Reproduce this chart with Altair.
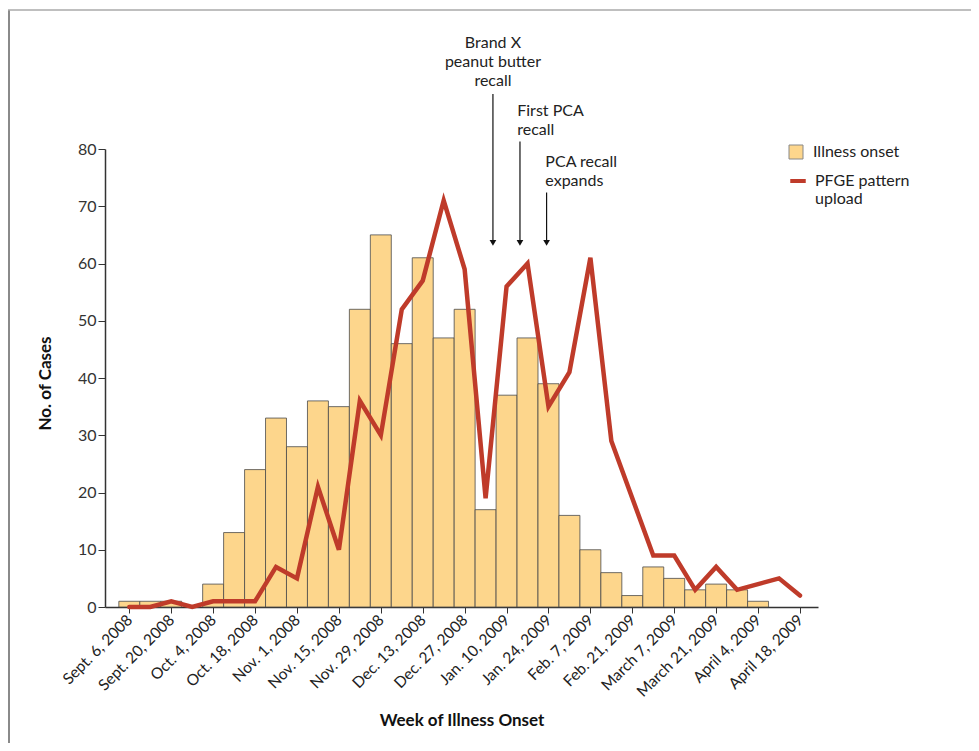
import json
import altair as alt
import pandas as pd

# ---- data ----
week_index = list(range(33))  # Sept 6, 2008 ... April 18, 2009 (weekly)
illness_onset = [1, 1, 1, 0, 4, 13, 24, 33, 28, 36, 35, 52, 65, 46, 61, 47, 52,
                 17, 37, 47, 39, 16, 10, 6, 2, 7, 5, 3, 4, 3, 1, 0, 0]
pfge_upload = [0, 0, 1, 0, 1, 1, 1, 7, 5, 21, 10, 36, 30, 52, 57, 71, 59,
               19, 56, 60, 35, 41, 61, 29, 19, 9, 9, 3, 7, 3, 4, 5, 2]
tick_labels = ["Sept. 6, 2008", "Sept. 20, 2008", "Oct. 4, 2008", "Oct. 18, 2008",
               "Nov. 1, 2008", "Nov. 15, 2008", "Nov. 29, 2008", "Dec. 13, 2008",
               "Dec. 27, 2008", "Jan. 10, 2009", "Jan. 24, 2009", "Feb. 7, 2009",
               "Feb. 21, 2009", "March 7, 2009", "March 21, 2009", "April 4, 2009",
               "April 18, 2009"]
tick_values = list(range(0, 33, 2))

# annotations (x in week units, y in case units)
arrow_x = [17.35, 18.64, 19.91]
arrow_top = [89.6, 81.3, 72.4]
arrow_tip = [63.6, 63.6, 63.6]
ann_center_text = ["Brand X", "peanut butter", "recall"]
ann_center_y = [98.6, 95.2, 91.9]
ann_left_text = ["First PCA", "recall", "PCA recall", "expands"]
ann_left_x = [18.51, 18.51, 19.85, 19.85]
ann_left_y = [86.7, 83.4, 77.8, 74.4]

FONT = "Lato"
BAR_FILL = "#FDD68C"
LINE_RED = "#BF3B2A"
TXT = "#222"

bars_df = pd.DataFrame({"week": week_index, "cases": illness_onset,
                        "series": "Illness onset"})
bars_df = bars_df[bars_df["cases"] > 0]
line_df = pd.DataFrame({"week": week_index, "cases": pfge_upload,
                        "series2": "PFGE pattern upload"})

xscale = alt.Scale(domain=[-1.16, 32.86], nice=False, zero=False, padding=0)
yscale = alt.Scale(domain=[0, 80], nice=False, padding=0)

label_expr = json.dumps(tick_labels) + "[round(datum.value/2)]"

x_axis = alt.Axis(values=tick_values, labelExpr=label_expr, labelAngle=-45,
                  labelAlign="right", labelBaseline="middle", labelFont=FONT,
                  labelFontSize=15.5, labelColor=TXT, labelPadding=4,
                  tickSize=6, tickColor="#333", domainColor="#333", domainWidth=1.5,
                  grid=False, title="Week of Illness Onset", titleFont=FONT,
                  titleFontSize=17, titleFontWeight="bold", titleColor="#111",
                  titleX=356.5, titleY=113, titleAnchor="middle",
                  titleBaseline="middle", labelOverlap=False)
y_axis = alt.Axis(values=list(range(0, 81, 10)), labelFont=FONT, labelFontSize=16,
                  labelColor="#333", labelPadding=2, tickSize=7, tickColor="#333",
                  domainColor="#333", domainWidth=1.5, grid=False,
                  title="No. of Cases", titleFont=FONT, titleFontSize=17,
                  titleFontWeight="bold", titleColor="#111", titleAngle=-90,
                  titleX=-60, titleY=234, titleAlign="center",
                  titleBaseline="middle")

bars = alt.Chart(bars_df).transform_calculate(
    x0="datum.week - 0.5", x1="datum.week + 0.5"
).mark_bar(stroke="#4a4a4a", strokeWidth=0.8, orient="vertical").encode(
    x=alt.X("x0:Q", scale=xscale, axis=x_axis),
    x2="x1:Q",
    y=alt.Y("cases:Q", scale=yscale, axis=y_axis),
    y2=alt.datum(0),
    fill=alt.Fill("series:N", scale=alt.Scale(domain=["Illness onset"], range=[BAR_FILL]),
                  legend=alt.Legend(title=None, orient="none", legendX=683, legendY=-5,
                                    symbolType="square", symbolSize=196,
                                    symbolStrokeColor="#888", symbolStrokeWidth=1,
                                    labelFont=FONT, labelFontSize=16, labelColor=TXT,
                                    labelOffset=9, padding=0)),
)

line = alt.Chart(line_df).mark_line(strokeWidth=4.5, strokeJoin="miter",
                                    strokeCap="round").encode(
    x=alt.X("week:Q", scale=xscale),
    y=alt.Y("cases:Q", scale=yscale),
    stroke=alt.Stroke("series2:N",
                      scale=alt.Scale(domain=["PFGE pattern upload"], range=[LINE_RED]),
                      legend=alt.Legend(title=None, orient="none", legendX=683, legendY=22,
                                        symbolType="stroke", symbolSize=240,
                                        symbolStrokeWidth=4, labelFont=FONT,
                                        labelFontSize=16, labelColor=TXT,
                                        labelOffset=7, labelBaseline="middle",
                                        labelExpr="datum.label == 'PFGE pattern upload' ? ['PFGE pattern', 'upload'] : datum.label",
                                        padding=0)),
)

arrows_df = pd.DataFrame({"x": arrow_x, "top": arrow_top, "tip": arrow_tip})
arrow_shafts = alt.Chart(arrows_df).mark_rule(color="#111", strokeWidth=1.2).encode(
    x=alt.X("x:Q", scale=xscale), y=alt.Y("top:Q", scale=yscale), y2="tip:Q")
arrow_heads = alt.Chart(arrows_df).mark_point(shape="triangle-down", filled=True,
                                              color="#111", size=45, opacity=1).encode(
    x=alt.X("x:Q", scale=xscale), y=alt.Y("tip:Q", scale=yscale))

ann_c_df = pd.DataFrame({"text": ann_center_text, "x": [arrow_x[0]] * 3, "y": ann_center_y})
ann_c = alt.Chart(ann_c_df).mark_text(font=FONT, fontSize=16, color=TXT,
                                      align="center", baseline="middle").encode(
    x=alt.X("x:Q", scale=xscale), y=alt.Y("y:Q", scale=yscale), text="text:N")
ann_l_df = pd.DataFrame({"text": ann_left_text, "x": ann_left_x, "y": ann_left_y})
ann_l = alt.Chart(ann_l_df).mark_text(font=FONT, fontSize=16, color=TXT,
                                      align="left", baseline="middle").encode(
    x=alt.X("x:Q", scale=xscale), y=alt.Y("y:Q", scale=yscale), text="text:N")

# thin frame around the figure, as in the reference scan
frame_left = alt.Chart(pd.DataFrame({"a": [0]})).mark_rule(color="#8a8a8a", strokeWidth=2).encode(
    x=alt.value(-96), y=alt.value(-139), y2=alt.value(594))
frame_top = alt.Chart(pd.DataFrame({"a": [0]})).mark_rule(color="#aaaaaa", strokeWidth=1.5).encode(
    x=alt.value(-97), x2=alt.value(866), y=alt.value(-139))

chart = alt.layer(bars, line, arrow_shafts, arrow_heads, ann_c, ann_l,
                  frame_left, frame_top).resolve_legend(
    fill="independent", stroke="independent"
).properties(
    width=713, height=458,
    autosize=alt.AutoSizeParams(type="none"),
    padding={"left": 97, "top": 141, "right": 153, "bottom": 136},
    background="white",
).configure_view(strokeWidth=0, stroke="transparent")

chart.save("out.html", embed_options={"renderer": "svg", "actions": False})
